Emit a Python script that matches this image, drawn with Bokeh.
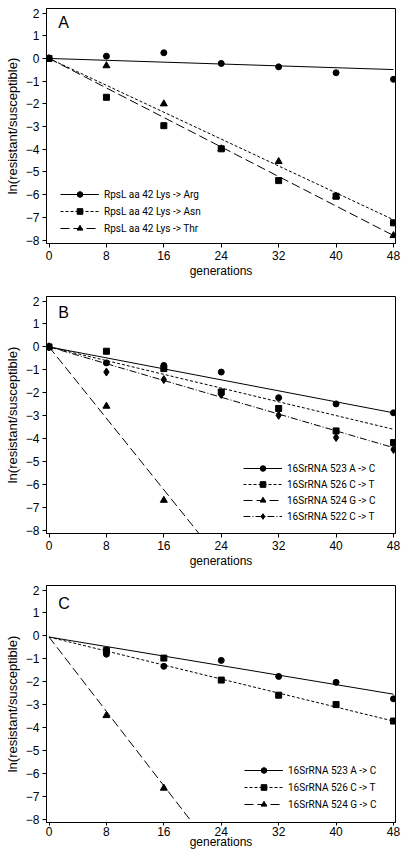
from bokeh.plotting import figure
from bokeh.models import Range1d, FixedTicker, Legend, LegendItem, Label
from bokeh.layouts import column
from bokeh.embed import file_html
from bokeh.resources import INLINE
import numpy as np

# ---------------- data ----------------
gens = [0, 8, 16, 24, 32, 40, 48]
x_ticks = [0, 8, 16, 24, 32, 40, 48]
y_ticks = [-8, -7, -6, -5, -4, -3, -2, -1, 0, 1, 2]

# Panel A
a_labels = ["RpsL aa 42 Lys -> Arg", "RpsL aa 42 Lys -> Asn", "RpsL aa 42 Lys -> Thr"]
a_arg = [0, 0.1, 0.25, -0.22, -0.37, -0.63, -0.92]
a_asn = [0, -1.71, -2.96, -3.98, -5.38, -6.07, -7.24]
a_thr = [0, -0.32, -2.0, -3.98, -4.54, -6.07, -7.8]
a_slopes = [-0.0102, -0.148, -0.1625]
a_intercepts = [0, 0, 0]

# Panel B
b_labels = ["16SrRNA 523 A -> C", "16SrRNA 526 C -> T", "16SrRNA 524 G -> C", "16SrRNA 522 C -> T"]
b_523 = [0, -0.70, -0.81, -1.10, -2.22, -2.49, -2.88]
b_526 = [0, -0.19, -0.95, -1.97, -2.69, -3.67, -4.18]
b_524_x = [0, 8, 16]
b_524 = [0, -2.59, -6.7]
b_522 = [0, -1.10, -1.43, -2.08, -2.99, -3.96, -4.48]
b_slopes = [-0.06, -0.075, -0.39, -0.0917]
b_intercepts = [0, 0, 0, 0]

# Panel C
c_labels = ["16SrRNA 523 A -> C", "16SrRNA 526 C -> T", "16SrRNA 524 G -> C"]
c_x = [8, 16, 24, 32, 40, 48]
c_523 = [-0.80, -1.33, -1.07, -1.77, -2.03, -2.75]
c_526 = [-0.64, -0.97, -1.93, -2.59, -3.0, -3.72]
c_524_x = [8, 16]
c_524 = [-3.48, -6.65]
c_slopes = [-0.052, -0.0765, -0.406]
c_intercepts = [-0.05, -0.05, -0.05]

FONT = "Liberation Sans"
LFONT = "Roboto"

markers = ["circle", "square", "triangle", "diamond"]
msizes = [6, 6, 7, 8]
dashes = ["solid", "3 2", "9 4", "7 2 1 2"]


def make_panel(letter, letter_y, series, slopes, intercepts, labels, legend_loc,
               top, bottom, height, spacing, tick_out=4, lab_standoff=3, axlab_standoff=1):
    p = figure(width=405, height=height, output_backend="svg",
               toolbar_location=None, x_range=Range1d(-0.35, 48.28),
               y_range=Range1d(-8.15, 2.2), min_border_left=46,
               min_border_right=10, min_border_top=top, min_border_bottom=bottom)
    p.xgrid.visible = False
    p.ygrid.visible = False
    p.outline_line_color = "black"
    p.outline_line_alpha = 1
    p.background_fill_color = "white"
    p.border_fill_color = "white"
    p.xaxis.ticker = FixedTicker(ticks=x_ticks)
    p.yaxis.ticker = FixedTicker(ticks=y_ticks)
    for ax in (p.xaxis[0], p.yaxis[0]):
        ax.axis_line_color = "black"
        ax.major_tick_line_color = "black"
        ax.major_tick_out = 4
        ax.major_tick_in = 0
        ax.minor_tick_line_color = None
        ax.major_label_text_font = FONT
        ax.major_label_text_font_size = "12px"
        ax.major_label_text_color = "black"
        ax.axis_label_text_font = FONT
        ax.axis_label_text_font_style = "normal"
        ax.axis_label_text_color = "black"
    p.xaxis.axis_label = "generations"
    p.xaxis.axis_label_text_font_size = "12px"
    p.xaxis.major_tick_out = tick_out
    p.xaxis.major_label_standoff = lab_standoff
    p.xaxis.axis_label_standoff = axlab_standoff
    p.yaxis.axis_label = "ln(resistant/susceptible)"
    p.yaxis.axis_label_text_font_size = "13px"
    p.yaxis.major_label_standoff = 3
    p.yaxis.axis_label_standoff = 3

    items = []
    for i, (xs, ys) in enumerate(series):
        lx = np.array([0.0, 48.0])
        ly = intercepts[i] + slopes[i] * lx
        lr = p.line(lx, ly, line_color="black", line_width=1, line_dash=dashes[i])
        sr = p.scatter(xs, ys, marker=markers[i], size=msizes[i],
                       fill_color="black", line_color="black")
        items.append(LegendItem(label=labels[i], renderers=[lr, sr]))

    leg = Legend(items=items, location=legend_loc, orientation="vertical",
                 padding=0, margin=0, spacing=spacing, glyph_width=39,
                 glyph_height=14, label_height=14, label_standoff=5,
                 label_text_font=LFONT, label_text_font_size="10px",
                 label_text_color="black",
                 border_line_alpha=0, background_fill_alpha=0)
    p.add_layout(leg)
    p.add_layout(Label(x=1.3, y=letter_y, text=letter, text_font=FONT,
                       text_font_size="16px", text_color="black"))
    return p


pa = make_panel("A", 1.2, [(gens, a_arg), (gens, a_asn), (gens, a_thr)],
                a_slopes, a_intercepts, a_labels, (14, 8), 8, 43, 286, 3)
pb = make_panel("B", 1.15, [(gens, b_523), (gens, b_526), (b_524_x, b_524), (gens, b_522)],
                b_slopes, b_intercepts, b_labels, (197, 10), 10, 42, 289, 2)
pc = make_panel("C", 1.03, [(c_x, c_523), (c_x, c_526), (c_524_x, c_524)],
                c_slopes, c_intercepts, c_labels, (198, 11), 10, 36, 283, 3,
                tick_out=3, lab_standoff=1, axlab_standoff=-4)

layout = column(pa, pb, pc, spacing=0)
open("out.html", "w").write(file_html(layout, INLINE))
